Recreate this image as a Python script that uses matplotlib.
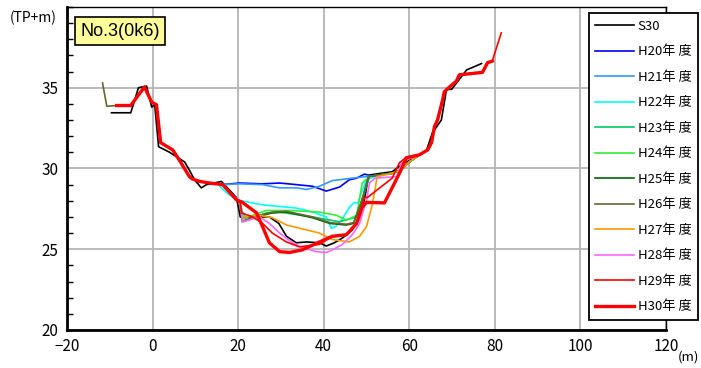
import matplotlib
matplotlib.use('Agg')
import matplotlib.pyplot as plt
from matplotlib.ticker import MultipleLocator

plt.rcParams['font.family'] = ['Liberation Sans Narrow', 'Noto Sans CJK JP', 'DejaVu Sans']

# 共通の左岸・右岸
lb_x = [-8.4, -5.1, -1.9, -0.2, 0.9, 1.9, 4.7, 6.3, 8.6, 9.3, 11.0, 13.3, 16.4]
lb_y = [33.9, 33.9, 35.05, 34.1, 33.95, 31.6, 31.15, 30.5, 29.5, 29.35, 29.2, 29.1, 29.0]
rb_x = [62.4, 64.3, 65.2, 65.9, 66.6, 67.8, 68.2, 69.4, 71.0, 71.7, 77.1, 78.3, 79.4]
rb_y = [30.85, 31.15, 31.6, 32.6, 33.0, 34.25, 34.75, 35.05, 35.4, 35.8, 35.95, 36.55, 36.65]

s30_x = [-9.6, -5.1, -3.3, -1.4, -0.2, 0.5, 1.4, 4.0, 7.5, 8.6, 9.8, 11.4, 12.6, 16.1, 19.6,
         20.5, 27.3, 29.5, 31.3, 33.6, 36.0, 39.0, 40.6, 42.5, 44.4, 46.7, 48.4, 49.5, 50.2,
         50.7, 56.0, 58.9, 62.0, 64.0, 65.4, 67.5, 68.2, 68.7, 69.9, 73.4, 76.9]
s30_y = [33.45, 33.45, 35.0, 35.1, 33.8, 33.95, 31.35, 31.0, 30.4, 29.9, 29.3, 28.8, 29.0, 29.2, 28.2,
         27.0, 27.0, 26.6, 25.8, 25.4, 25.45, 25.4, 25.2, 25.4, 25.7, 26.2, 27.0, 28.06, 29.1,
         29.6, 29.8, 30.35, 30.8, 31.1, 32.2, 33.0, 34.1, 34.9, 34.9, 36.1, 36.5]

h20_x = [20.3, 25.7, 29.7, 33.6, 37.4, 40.6, 43.7, 46.0, 47.7, 49.5, 51.2, 53.0, 56.0, 58.0, 60.0]
h20_y = [29.1, 29.05, 29.1, 29.0, 28.9, 28.6, 28.85, 29.3, 29.4, 29.65, 29.55, 29.6, 29.7, 29.9, 30.4]

h21_x = [20.3, 25.7, 29.7, 33.6, 36.0, 39.0, 42.0, 46.7, 50.0, 53.0, 56.0, 58.0, 60.0]
h21_y = [29.05, 29.0, 28.8, 28.8, 28.7, 28.9, 29.25, 29.4, 29.5, 29.6, 29.7, 29.9, 30.4]

h22_x = [15.7, 17.3, 19.6, 22.7, 25.7, 33.6, 37.4, 40.6, 41.8, 42.8, 44.4, 46.0, 47.2, 48.0,
         48.8, 50.0, 53.0, 56.0, 58.0, 60.0]
h22_y = [28.9, 28.5, 28.06, 27.9, 27.75, 27.55, 27.3, 27.0, 26.3, 26.4, 26.9, 27.6, 27.9, 27.85,
         28.5, 29.3, 29.6, 29.7, 29.9, 30.4]

h23_x = [17.3, 20.3, 21.0, 22.0, 26.6, 29.7, 37.4, 43.7, 47.7, 49.5, 50.7, 53.0, 56.0, 58.0, 60.0]
h23_y = [28.7, 27.9, 27.3, 26.8, 27.25, 27.3, 27.0, 26.7, 27.0, 28.5, 29.5, 29.6, 29.7, 29.9, 30.4]

h24_x = [17.3, 20.3, 21.0, 23.4, 26.6, 32.0, 39.0, 43.0, 45.3, 47.7, 49.0, 50.7, 53.0, 56.0, 58.0, 60.0]
h24_y = [28.7, 27.9, 26.9, 27.1, 27.4, 27.4, 27.3, 27.1, 26.8, 27.1, 29.1, 29.5, 29.6, 29.7, 29.9, 30.4]

h25_x = [17.3, 20.3, 21.0, 24.3, 28.0, 31.3, 37.4, 41.4, 45.3, 47.0, 48.8, 50.5, 53.0, 56.0, 58.0, 60.0]
h25_y = [28.7, 27.9, 26.7, 27.0, 27.25, 27.3, 26.95, 26.6, 26.5, 26.6, 27.9, 29.5, 29.6, 29.7, 29.9, 30.4]

h26_x = [-11.7, -10.7]
h26_y = [35.3, 33.85]
h26_mx = [17.3, 20.3, 21.0, 24.3, 28.0, 31.3, 37.4, 41.4, 45.3, 47.0, 48.8, 50.5, 53.0, 56.0, 58.0, 60.0]
h26_my = [28.7, 27.9, 26.75, 27.05, 27.3, 27.35, 27.0, 26.65, 26.55, 26.65, 27.95, 29.5, 29.6, 29.7, 29.9, 30.4]

h27_x = [17.3, 20.3, 21.0, 25.0, 28.0, 31.3, 39.0, 42.0, 46.0, 48.4, 50.0, 51.2, 51.9, 52.5, 56.0, 58.0, 60.0]
h27_y = [28.7, 27.9, 27.0, 27.1, 26.95, 26.5, 26.0, 25.6, 25.45, 25.8, 26.4, 27.6, 28.55, 29.5, 29.7, 29.9, 30.4]

h28_x = [17.3, 20.3, 20.8, 21.0, 25.0, 27.3, 29.7, 32.7, 35.0, 38.3, 40.6, 42.0, 44.4, 46.7,
         48.4, 50.0, 50.7, 52.0, 57.2, 58.2, 60.0]
h28_y = [28.7, 28.0, 27.5, 26.7, 27.0, 26.6, 26.0, 25.4, 25.1, 24.85, 24.8, 24.95, 25.3, 25.9,
         26.6, 28.06, 29.1, 29.4, 29.5, 30.35, 30.6]

h29_x = [19.6, 20.5, 20.8, 23.4, 25.7, 28.0, 31.3, 34.3, 39.0, 42.0, 45.3, 47.7, 49.5, 50.2,
         56.0, 57.7, 59.3]
h29_y = [28.06, 27.9, 27.25, 27.0, 26.6, 26.0, 25.45, 25.15, 25.3, 25.8, 25.9, 26.6, 28.2, 28.2,
         29.4, 30.35, 30.7]
h29_end_x = [81.5]
h29_end_y = [38.4]

h30_x = [19.6, 21.0, 24.3, 25.7, 27.3, 29.7, 32.0, 35.0, 39.0, 42.0, 45.3, 47.7, 49.0, 50.0,
         54.2, 55.8, 57.7, 58.4, 59.3]
h30_y = [28.06, 27.9, 27.25, 26.4, 25.4, 24.85, 24.8, 24.96, 25.45, 25.8, 25.9, 26.6, 27.6, 27.9,
         27.87, 28.7, 29.7, 30.1, 30.66]

series = [
    ('S30', s30_x, s30_y, 'black', 1.2),
    ('H20年 度', lb_x + h20_x + rb_x, lb_y + h20_y + rb_y, '#0000ff', 1.2),
    ('H21年 度', lb_x + h21_x + rb_x, lb_y + h21_y + rb_y, '#3399ff', 1.2),
    ('H22年 度', lb_x + h22_x + rb_x, lb_y + h22_y + rb_y, '#00ffff', 1.2),
    ('H23年 度', lb_x + h23_x + rb_x, lb_y + h23_y + rb_y, '#00cc66', 1.2),
    ('H24年 度', lb_x + h24_x + rb_x, lb_y + h24_y + rb_y, '#33ee33', 1.2),
    ('H25年 度', lb_x + h25_x + rb_x, lb_y + h25_y + rb_y, '#006600', 1.2),
    ('H26年 度', h26_x + lb_x + h26_mx + rb_x, h26_y + lb_y + h26_my + rb_y, '#666633', 1.2),
    ('H27年 度', lb_x + h27_x + rb_x, lb_y + h27_y + rb_y, '#ff9900', 1.2),
    ('H28年 度', lb_x + h28_x + rb_x, lb_y + h28_y + rb_y, '#ff66ff', 1.2),
    ('H29年 度', lb_x + h29_x + rb_x + h29_end_x, lb_y + h29_y + rb_y + h29_end_y, '#ff0000', 1.2),
    ('H30年 度', lb_x + h30_x + rb_x, lb_y + h30_y + rb_y, '#ff0000', 2.4),
]

fig = plt.figure(figsize=(7.01, 3.68), dpi=100)
ax = fig.add_axes([0.0956, 0.1033, 0.8544, 0.8777])

for name, xs, ys, c, lw in series:
    ax.plot(xs, ys, color=c, lw=lw, label=name)

ax.set_xlim(-20, 120)
ax.set_ylim(20, 40)
ax.set_xticks([-20, 0, 20, 40, 60, 80, 100, 120])
ax.set_yticks([20, 25, 30, 35])
ax.yaxis.set_minor_locator(MultipleLocator(1))
ax.grid(True, color='#b4b4b4', lw=1.3)
ax.tick_params(axis='both', which='major', labelsize=11, length=0, pad=6)
ax.tick_params(axis='y', which='minor', direction='in', length=4, width=1, color='black')
for s in ['left', 'bottom']:
    ax.spines[s].set_linewidth(2)
for s in ['top', 'right']:
    ax.spines[s].set_linewidth(1)

fig.text(0.014, 0.952, '(TP+m)', fontsize=10, ha='left', va='center')
fig.text(0.998, 0.03, '(m)', fontsize=9.5, ha='right', va='center')

ax.text(0.022, 0.925, 'No.3(0k6)', transform=ax.transAxes, fontsize=13,
        family=['Liberation Sans', 'DejaVu Sans'], va='center', ha='left',
        bbox=dict(boxstyle='square,pad=0.3', fc='#ffff99', ec='black', lw=1.2))

leg = fig.legend(loc='upper right', bbox_to_anchor=(0.9957, 0.9647),
                 fontsize=9.5, labelspacing=0.95, handlelength=2.9,
                 handletextpad=0.3, borderpad=0.5, borderaxespad=0, fancybox=False,
                 framealpha=1, edgecolor='black')
leg.get_frame().set_linewidth(1.3)

fig.savefig('out.png', dpi=100)
